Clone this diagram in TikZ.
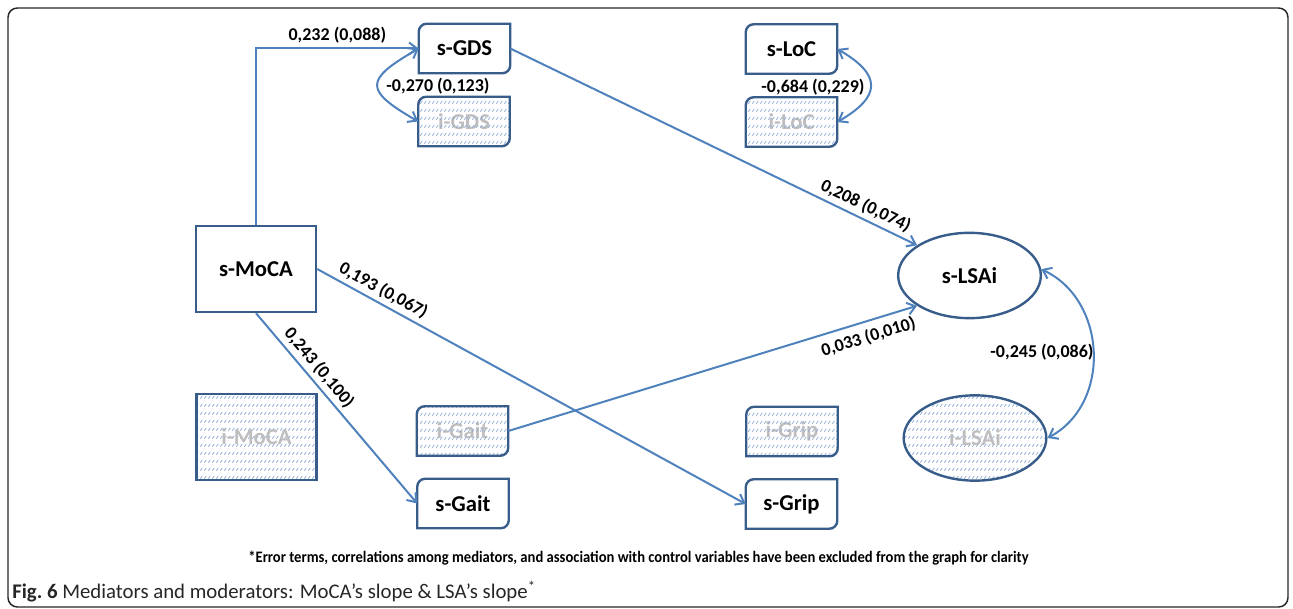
\documentclass[tikz,border=0pt]{standalone}
\usepackage{fontspec}
\setmainfont{Carlito}
\usetikzlibrary{arrows.meta,calc,patterns,shapes.geometric}

\definecolor{edgeblue}{RGB}{79,129,189}
\definecolor{boxblue}{RGB}{56,93,138}
\definecolor{hatchblue}{RGB}{140,170,215}
\definecolor{fadegray}{RGB}{190,190,190}

% rows of short slanted dashes
\pgfdeclarepatternformonly{dashrows}{\pgfqpoint{0pt}{0pt}}{\pgfqpoint{3pt}{5.7pt}}{\pgfqpoint{3pt}{5.7pt}}{%
  \pgfsetlinewidth{0.6pt}
  \pgfpathmoveto{\pgfqpoint{0.3pt}{1pt}}
  \pgfpathlineto{\pgfqpoint{2.1pt}{3.2pt}}
  \pgfusepath{stroke}}

% box with rounded top-left and bottom-right corners
\newcommand{\diagframe}[2]{%
  \draw[frameline,#1] (#2.south west) -- ($(#2.north west)+(0,8)$)
    arc[start angle=180,end angle=270,radius=8] -- (#2.north east)
    -- ($(#2.south east)+(0,-8)$) arc[start angle=0,end angle=90,radius=8] -- cycle;}

\tikzset{
  varbox/.style={rectangle, minimum width=68.25pt, minimum height=36.75pt, inner sep=0pt, font=\fontsize{17}{20}\selectfont\bfseries},
  mocabox/.style={rectangle, draw=boxblue, line width=1.8pt, minimum width=90pt, minimum height=64.5pt, inner sep=0pt, font=\fontsize{17}{20}\selectfont\bfseries},
  lsaoval/.style={ellipse, draw=boxblue, line width=1.8pt, minimum width=107pt, minimum height=64pt, inner sep=0pt, font=\fontsize{17}{20}\selectfont\bfseries},
  faded/.style={text=fadegray},
  hatched/.style={pattern=dashrows, pattern color=hatchblue},
  frameline/.style={draw=boxblue, line width=1.8pt},
  effect/.style={draw=edgeblue, line width=1.5pt, -{Straight Barb[length=6pt,width=9pt]}},
  corr/.style={draw=edgeblue, line width=1.5pt, {Straight Barb[length=6pt,width=9pt]}-{Straight Barb[length=6pt,width=9pt]}},
  coef/.style={font=\fontsize{13.5}{16}\selectfont\bfseries, inner sep=1pt},
}

\begin{document}
\begin{tikzpicture}[x=0.75pt,y=0.75pt,yscale=-1,xscale=1]
\useasboundingbox (0,0) rectangle (1293,609);
\clip (0,0) rectangle (1293,609);

% outer frame
\draw[rounded corners=7pt, line width=1.1pt, draw=black!85] (8,8) rectangle (1288,607);

% mediators, top row
\node[varbox] (sgds) at (464.5,48.5) {s-GDS};
\node[varbox, faded] (igds) at (464,121.5) {i-GDS};
\node[varbox] (sloc) at (791.5,49) {s-LoC};
\node[varbox, faded] (iloc) at (791.5,122) {i-LoC};
\diagframe{}{sgds}
\diagframe{hatched}{igds}
\diagframe{}{sloc}
\diagframe{hatched}{iloc}

% mediators, bottom rows
\node[varbox, faded] (igait) at (462.5,431) {i-Gait};
\node[varbox] (sgait) at (463,503.5) {s-Gait};
\node[varbox, faded] (igrip) at (792,431.5) {i-Grip};
\node[varbox] (sgrip) at (791.5,504) {s-Grip};
\diagframe{hatched}{igait}
\diagframe{}{sgait}
\diagframe{hatched}{igrip}
\diagframe{}{sgrip}

% exposure and outcome
\node[mocabox] (smoca) at (256,269) {s-MoCA};
\node[mocabox, hatched, faded] (imoca) at (256.5,437) {i-MoCA};
\node[lsaoval] (slsai) at (969.5,275.5) {s-LSAi};
\node[lsaoval, hatched, faded] (ilsai) at (975,438) {i-LSAi};

% paths
\draw[effect] (smoca.north) |- (sgds.west) node[coef, pos=0.75, above=2pt] (c1) {0,232 (0,088)};
\draw[effect] (sgds.east) -- (slsai.150) node[coef, pos=0.86, anchor=south, rotate=-25.8, inner sep=3pt] (c2) {0,208 (0,074)};
\draw[effect] (smoca.east) -- (sgrip.west) node[coef, pos=0.14, anchor=south, rotate=-28.7, inner sep=3pt] (c3) {0,193 (0,067)};
\draw[effect] (smoca.south) -- (sgait.west) node[coef, pos=0.33, anchor=south, rotate=-49.8, inner sep=3pt] (c4) {0,243 (0,100)};
\draw[effect] (igait.east) -- (slsai.210) node[coef, pos=0.87, anchor=north, rotate=17.1, inner sep=5pt] (c5) {0,033 (0,010)};

% slope-intercept correlations
\draw[corr] (sgds.west) to[out=150,in=210,looseness=2.2] (igds.west);
\draw[corr] (sloc.east) to[out=30,in=330,looseness=1.8] (iloc.east);
\draw[corr] (slsai.5) to[out=25,in=332,looseness=1.1] (ilsai.east);
\node[coef] (r1) at (438,86) {-0,270 (0,123)};
\node[coef] (r2) at (813,87) {-0,684 (0,229)};
\node[coef] (r3) at (1042,352) {-0,245 (0,086)};

% notes
\node[font=\fontsize{12}{14}\selectfont\bfseries, inner sep=0pt] (note) at (638.5,558) {\scalebox{0.913}[1]{*Error terms, correlations among mediators, and association with control variables have been excluded from the graph for clarity}};
\node[anchor=west, inner sep=0pt, font=\fontsize{15.6}{18}\selectfont, text=black!85] (caption) at (12,592) {\textbf{Fig.~6} Mediators and moderators: MoCA’s slope \& LSA’s slope\textsuperscript{*}};

\end{tikzpicture}
\end{document}
